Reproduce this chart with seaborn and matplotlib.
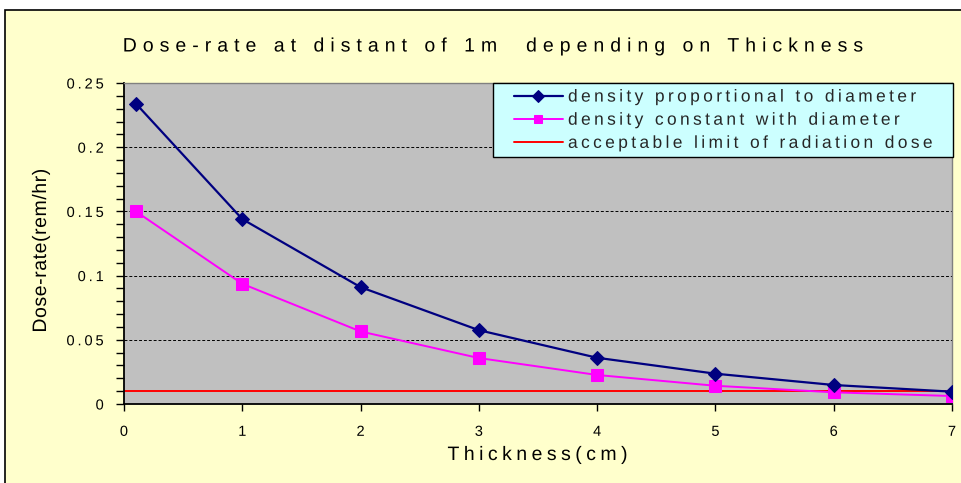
import matplotlib
matplotlib.use("Agg")
import numpy as np
import matplotlib.pyplot as plt
from matplotlib.patches import Rectangle
from matplotlib.ticker import MultipleLocator
from matplotlib.patheffects import AbstractPathEffect
from matplotlib.path import Path
from matplotlib.lines import Line2D
from matplotlib.legend_handler import HandlerLine2D
import seaborn as sns
import pandas as pd

# ---- data ----
thickness = [0.1, 1, 2, 3, 4, 5, 6, 7]
dose_proportional = [0.234, 0.144, 0.091, 0.0575, 0.036, 0.0236, 0.0148, 0.0096]
dose_constant = [0.150, 0.0936, 0.0565, 0.0358, 0.0226, 0.0142, 0.0091, 0.0062]
limit_x = [0, 1, 2, 3, 4, 5, 6, 7]
limit_y = [0.01, 0.01, 0.01, 0.01, 0.01, 0.01, 0.01, 0.01]
x_ticks = [0, 1, 2, 3, 4, 5, 6, 7]
y_ticks = [0, 0.05, 0.1, 0.15, 0.2, 0.25]
y_ticklabels = ["0", "0.05", "0.1", "0.15", "0.2", "0.25"]
labels = ["density proportional to diameter",
          "density constant with diameter",
          "acceptable limit of radiation dose"]
title = "Dose-rate at distant of 1m  depending on Thickness"
xlabel = "Thickness(cm)"
ylabel = "Dose-rate(rem/hr)"


class LetterSpacing(AbstractPathEffect):
    """Draw text glyphs with extra tracking (letter spacing)."""

    def __init__(self, spacing_em, align=0.5):
        super().__init__()
        self.sp = spacing_em * 100.0
        self.align = align

    def draw_path(self, renderer, gc, tpath, affine, rgbFace=None):
        codes = tpath.codes
        if codes is None or len(tpath.vertices) == 0:
            renderer.draw_path(gc, tpath, affine, rgbFace)
            return
        verts = np.array(tpath.vertices, dtype=float)
        codes = np.asarray(codes)
        starts = list(np.where(codes == Path.MOVETO)[0]) + [len(verts)]
        conts = []
        for a, b in zip(starts[:-1], starts[1:]):
            m = (codes[a:b] != Path.CLOSEPOLY) & (codes[a:b] != Path.STOP)
            xs = verts[a:b, 0][m]
            if len(xs) == 0:
                continue
            conts.append([a, b, xs.min(), xs.max()])
        conts.sort(key=lambda c: c[2])
        clusters = []
        for c in conts:
            if clusters and c[2] <= clusters[-1]["x1"] + 0.5:
                clusters[-1]["items"].append(c)
                clusters[-1]["x1"] = max(clusters[-1]["x1"], c[3])
            else:
                clusters.append({"items": [c], "x0": c[2], "x1": c[3]})
        shift = 0.0
        for i, cl in enumerate(clusters):
            if i > 0:
                gap = cl["x0"] - clusters[i - 1]["x1"]
                shift += self.sp
                if gap > 22:
                    shift += self.sp * max(1, round((gap - 8) / 28))
            for c in cl["items"]:
                verts[c[0]:c[1], 0] += shift
        verts[:, 0] -= self.align * shift
        renderer.draw_path(gc, Path(verts, codes), affine, rgbFace)


sns.set_theme(style="white")
plt.rcParams['font.family'] = ['Liberation Sans', 'DejaVu Sans']

fig = plt.figure(figsize=(9.62, 4.83), dpi=100)
fig.patch.set_facecolor("white")
fig.patches.append(Rectangle((5 / 962, -0.01), 1.0, 1 - 9.5 / 483 + 0.01,
                             transform=fig.transFigure, facecolor="#ffffcc",
                             edgecolor="black", linewidth=1.2, zorder=-10))

ax = fig.add_axes([124 / 962, 1 - 404 / 483, (952 - 124) / 962, (404 - 83) / 483])
ax.set_facecolor("#c0c0c0")

df1 = pd.DataFrame({"x": thickness, "y": dose_proportional})
df2 = pd.DataFrame({"x": thickness, "y": dose_constant})
df3 = pd.DataFrame({"x": limit_x, "y": limit_y})

sns.lineplot(data=df1, x="x", y="y", ax=ax, color="#000080", marker="D",
             markersize=7, markeredgecolor="#000080", linewidth=1.6,
             label=labels[0], zorder=4)
sns.lineplot(data=df2, x="x", y="y", ax=ax, color="#ff00ff", marker="s",
             markersize=9, markeredgecolor="#ff00ff", linewidth=1.4,
             label=labels[1], zorder=3)
sns.lineplot(data=df3, x="x", y="y", ax=ax, color="#ff0000", linewidth=1.4,
             label=labels[2], zorder=2)

ax.set_xlim(0, 7)
ax.set_ylim(0, 0.25)
ax.set_xticks(x_ticks)
ax.set_xticklabels([str(t) for t in x_ticks], fontsize=10.5)
ax.set_yticks(y_ticks)
ax.set_yticklabels(y_ticklabels, fontsize=10.5)
ax.yaxis.set_minor_locator(MultipleLocator(0.01))
ax.tick_params(axis="x", which="major", direction="out", length=5, width=1,
               color="black", labelcolor="black", bottom=True, pad=10)
ax.tick_params(axis="y", which="major", direction="out", length=6, width=1,
               color="black", labelcolor="black", left=True, pad=8.5)
ax.tick_params(axis="y", which="minor", direction="out", length=6, width=1,
               color="black", left=True)
for t in ax.get_xticklabels():
    t.set_path_effects([LetterSpacing(0.2, 0.5)])
for t in ax.get_yticklabels():
    t.set_path_effects([LetterSpacing(0.2, 1.0)])

ax.grid(axis="y", which="major", color="black", linestyle=(0, (3, 2)), linewidth=0.7)
ax.set_axisbelow(True)

for s in ["left", "bottom"]:
    ax.spines[s].set_color("black")
    ax.spines[s].set_linewidth(1.3)
for s in ["top", "right"]:
    ax.spines[s].set_color("#808080")
    ax.spines[s].set_linewidth(1.0)

xl = ax.set_xlabel(xlabel, fontsize=14, color="black")
xl.set_path_effects([LetterSpacing(0.23, 0.5)])
ax.xaxis.set_label_coords(0.5, -(447 - 404) / 321)
yl = ax.set_ylabel(ylabel, fontsize=14, color="black")
yl.set_path_effects([LetterSpacing(0.03, 0.5)])
ax.yaxis.set_label_coords(-(124 - 50) / 828, (404 - 250) / 321)

tt = fig.text(494.5 / 962, 1 - 47 / 483, title, ha="center", va="center",
              fontsize=14, color="black")
tt.set_path_effects([LetterSpacing(0.31, 0.5)])

fs_leg = 12.5
leg = ax.legend(loc="upper right",
                bbox_to_anchor=((493 - 124) / 828, 0, (953 - 493) / 828, 1.0),
                mode="expand", fontsize=fs_leg, frameon=True, fancybox=False,
                borderaxespad=0, handlelength=3.65, borderpad=0.37,
                labelspacing=0.46, handletextpad=0.3,
                handler_map={Line2D: HandlerLine2D(xpad=0.84)})
leg.get_frame().set_facecolor("#ccffff")
leg.get_frame().set_edgecolor("black")
leg.get_frame().set_linewidth(1.0)
leg.get_frame().set_alpha(1.0)
for h in leg.legend_handles:
    h.set_markersize(6)
for t in leg.get_texts():
    t.set_path_effects([LetterSpacing(0.195, 0.0)])

fig.savefig("out.png", dpi=100, facecolor=fig.get_facecolor())
